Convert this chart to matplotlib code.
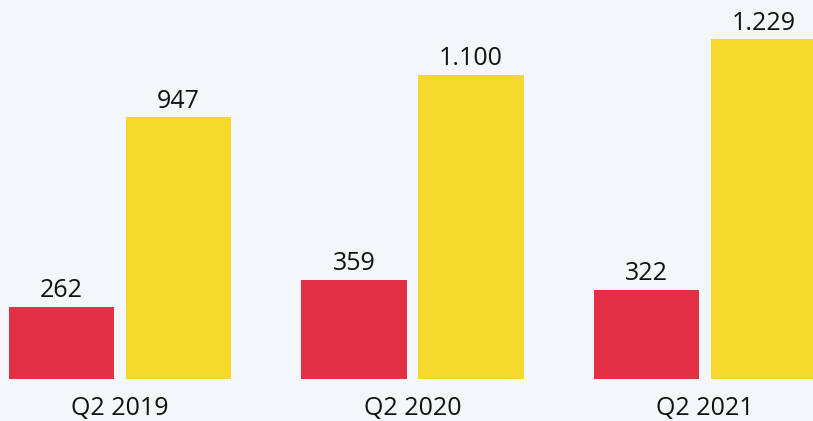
import matplotlib
matplotlib.use("Agg")
import matplotlib.pyplot as plt
import numpy as np

categories = ["Q2 2019", "Q2 2020", "Q2 2021"]
series_a = [262, 359, 322]
series_b = [947, 1100, 1229]

RED = "#e12f45"
YELLOW = "#f6d72b"
BG = "#f3f7fa"

plt.rcParams["font.family"] = ["Open Sans", "DejaVu Sans"]

fig = plt.figure(figsize=(8.13, 4.21), dpi=100, facecolor=BG)
ax = fig.add_axes([0, 42 / 421, 1, 379 / 421])
ax.set_facecolor(BG)

x = np.arange(len(categories))
width = 0.361
offset = 0.2

bars_a = ax.bar(x - offset, series_a, width, color=RED)
bars_b = ax.bar(x + offset, series_b, width, color=YELLOW)


def fmt(v):
    return f"{v:,}".replace(",", ".")


for bars, vals in ((bars_a, series_a), (bars_b, series_b)):
    for b, v in zip(bars, vals):
        ax.annotate(fmt(v), (b.get_x() + b.get_width() / 2, v),
                    xytext=(0, 2.5), textcoords="offset points",
                    ha="center", va="bottom", fontsize=18, color="#111111")

for xi, lab in zip(x, categories):
    ax.annotate(lab, (xi, 0), xytext=(0, -12), textcoords="offset points",
                ha="center", va="top", fontsize=18, color="#111111",
                annotation_clip=False)

ax.set_xlim(-0.410, 2.369)
ax.set_ylim(0, 1370)
ax.axis("off")

fig.savefig("out.png", dpi=100, facecolor=BG)
